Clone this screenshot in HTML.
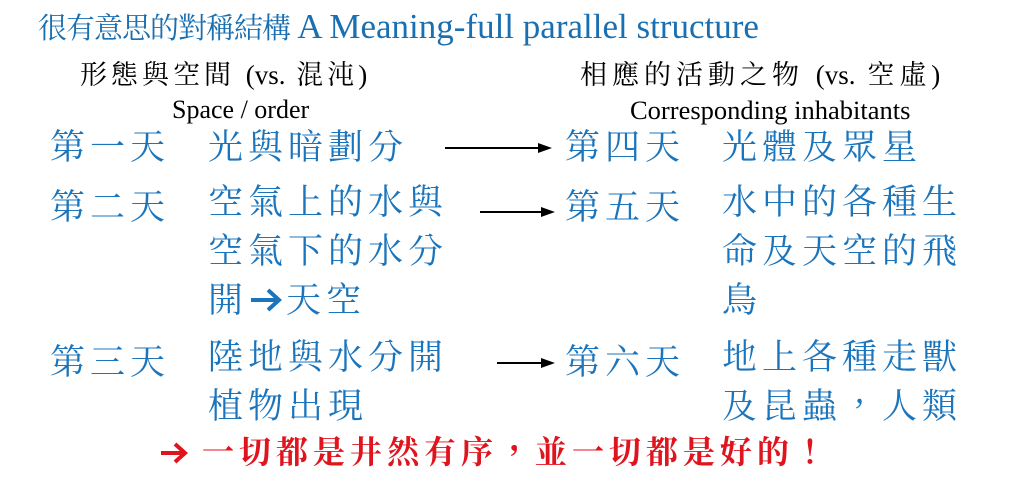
<!DOCTYPE html>
<html><head><meta charset="utf-8"><style>
body{margin:0;width:1024px;height:487px;background:#fff;position:relative;overflow:hidden;font-family:"Liberation Serif","Noto Serif CJK TC","Noto Serif CJK SC",serif;}
.a{position:absolute;white-space:nowrap;line-height:1;}
.b{color:#1b75bc;font-size:35px;letter-spacing:5px;}
.k{color:#000;}
</style></head><body>
<div class="a" style="left:38px;top:9px;font-size:29px;color:#1a6fb0;"><span style="letter-spacing:-1px">很有意思的對稱結構</span> <span style="font-size:35px;">A Meaning-full parallel structure</span></div>
<div class="a k" style="left:80px;top:62px;font-size:27px;letter-spacing:4px;">形態與空間 <span style="letter-spacing:0">(vs.</span> 混沌)</div>
<div class="a k" style="left:172px;top:97px;font-size:26px;">Space / order</div>
<div class="a k" style="left:580px;top:62px;font-size:27px;letter-spacing:5px;">相應的活動之物 <span style="letter-spacing:0">(vs.</span> 空虛)</div>
<div class="a k" style="left:630px;top:97px;font-size:26.5px;">Corresponding inhabitants</div>

<div class="a b" style="left:50px;top:130px;">第一天</div>
<div class="a b" style="left:208px;top:130px;">光與暗劃分</div>
<div class="a b" style="left:565px;top:130px;">第四天</div>
<div class="a b" style="left:722px;top:130px;">光體及眾星</div>

<div class="a b" style="left:50px;top:190px;">第二天</div>
<div class="a b" style="left:208px;line-height:49px;top:178px;">空氣上的水與<br>空氣下的水分<br>開<svg width="38" height="30" viewBox="0 0 38 30" style="vertical-align:-3px"><path d="M3 15H28" stroke="#1b75bc" stroke-width="4"/><path d="M20 5L31 15L20 25" fill="none" stroke="#1b75bc" stroke-width="4"/></svg>天空</div>
<div class="a b" style="left:565px;top:190px;">第五天</div>
<div class="a b" style="left:722px;top:178px;line-height:49px;">水中的各種生<br>命及天空的飛<br>鳥</div>

<div class="a b" style="left:50px;top:345px;">第三天</div>
<div class="a b" style="left:208px;top:333px;line-height:49px;">陸地與水分開<br>植物出現</div>
<div class="a b" style="left:565px;top:345px;">第六天</div>
<div class="a b" style="left:722px;top:333px;line-height:49px;">地上各種走獸<br>及昆蟲，人類</div>

<svg class="a" style="left:0;top:0" width="1024" height="487">
<g stroke="#000" stroke-width="2" fill="#000">
<line x1="445" y1="148" x2="540" y2="148"/><polygon points="552,148 538,143 538,153" stroke="none"/>
<line x1="480" y1="212" x2="543" y2="212"/><polygon points="555,212 541,207 541,217" stroke="none"/>
<line x1="497" y1="363" x2="543" y2="363"/><polygon points="555,363 541,358 541,368" stroke="none"/>
</g>
<path d="M161 453H183" stroke="#e0141e" stroke-width="4"/><path d="M175 444L185 453L175 462" fill="none" stroke="#e0141e" stroke-width="4"/>
</svg>

<div class="a" style="left:202px;top:436px;font-size:32px;font-weight:bold;color:#e0141e;letter-spacing:5px;">一切都是井然有序，並一切都是好的！</div>
</body></html>
